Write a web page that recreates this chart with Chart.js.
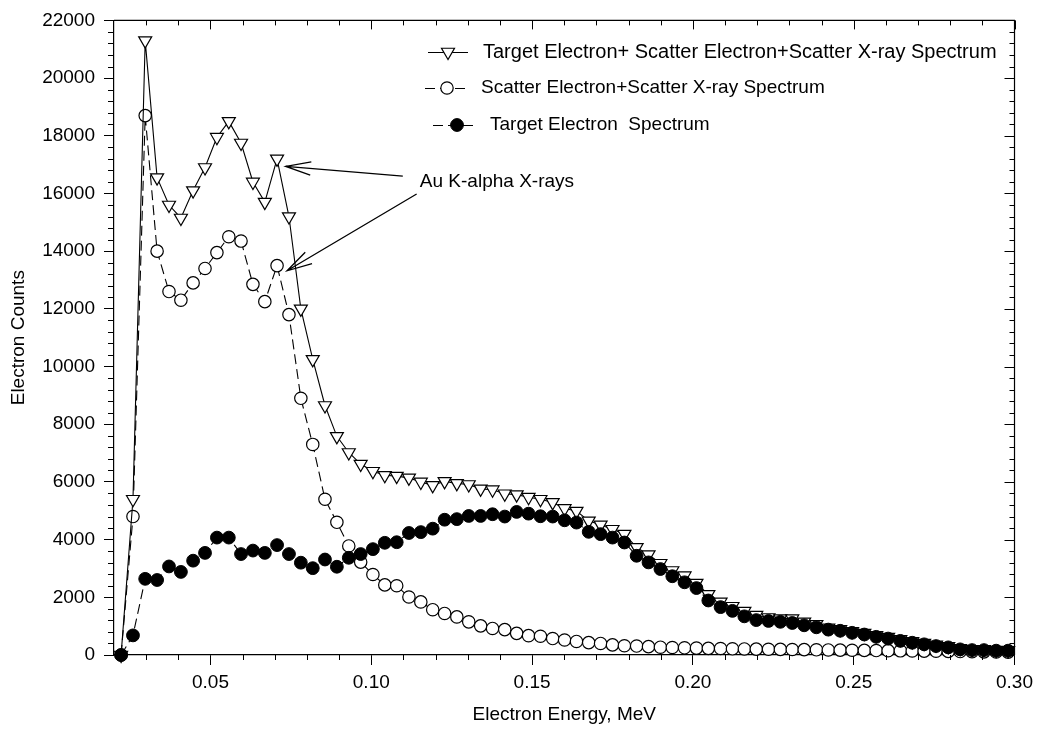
<!DOCTYPE html>
<html>
<head>
<meta charset="utf-8">
<title>Electron Energy Spectrum</title>
<script src="https://cdn.jsdelivr.net/npm/chart.js@4.4.1/dist/chart.umd.min.js"></script>
<style>
  html, body { margin: 0; padding: 0; background: #fff; }
  #chart { display: block; }
</style>
</head>
<body>
<canvas id="chart" width="1039" height="729"></canvas>
<script>
// energy bins, MeV
const energies = [
  0.0222, 0.0259, 0.0297, 0.0334, 0.0371, 0.0408, 0.0446, 0.0483, 0.0520, 0.0557,
  0.0595, 0.0632, 0.0669, 0.0707, 0.0744, 0.0781, 0.0818, 0.0856, 0.0893, 0.0930,
  0.0967, 0.1005, 0.1042, 0.1079, 0.1117, 0.1154, 0.1191, 0.1228, 0.1266, 0.1303,
  0.1340, 0.1377, 0.1415, 0.1452, 0.1489, 0.1526, 0.1564, 0.1601, 0.1638, 0.1676,
  0.1713, 0.1750, 0.1787, 0.1825, 0.1862, 0.1899, 0.1936, 0.1974, 0.2011, 0.2048,
  0.2086, 0.2123, 0.2160, 0.2197, 0.2235, 0.2272, 0.2309, 0.2346, 0.2384, 0.2421,
  0.2458, 0.2495, 0.2533, 0.2570, 0.2607, 0.2645, 0.2682, 0.2719, 0.2756, 0.2794,
  0.2831, 0.2868, 0.2905, 0.2943, 0.2980
];

// target electron + scatter electron + scatter x-ray
const totalCounts = [
  0, 5400, 21300, 16550, 15600, 15150, 16100, 16900, 17950, 18500,
  17750, 16400, 15700, 17200, 15200, 12000, 10250, 8650, 7580, 7020,
  6620, 6370, 6230, 6200, 6140, 6000, 5880, 6020, 5950, 5910,
  5760, 5730, 5590, 5560, 5470, 5400, 5290, 5080, 4990, 4650,
  4510, 4360, 4190, 3730, 3480, 3180, 2930, 2750, 2490, 2100,
  1840, 1690, 1520, 1380, 1300, 1260, 1260, 1150, 1060, 940,
  890, 820, 760, 680, 620, 540, 470, 410, 350, 300,
  230, 200, 195, 170, 165
];

// scatter electron + scatter x-ray
const scatterCounts = [
  0, 4800, 18700, 14000, 12600, 12300, 12900, 13400, 13950, 14500,
  14350, 12850, 12250, 13500, 11800, 8900, 7300, 5400, 4600, 3780,
  3220, 2790, 2430, 2400, 2010, 1840, 1570, 1440, 1320, 1150,
  1010, 920, 880, 750, 670, 650, 570, 520, 470, 430,
  400, 350, 320, 310, 290, 270, 260, 250, 240, 230,
  225, 215, 210, 205, 200, 195, 190, 185, 180, 175,
  170, 165, 160, 155, 150, 145, 140, 135, 130, 125,
  120, 115, 110, 105, 100
];

// target electrons only
const targetCounts = [
  0, 680, 2640, 2600, 3070, 2880, 3270, 3540, 4070, 4070,
  3500, 3620, 3540, 3810, 3500, 3200, 3010, 3310, 3060, 3370,
  3500, 3670, 3890, 3910, 4230, 4260, 4380, 4690, 4710, 4820,
  4820, 4880, 4800, 4960, 4900, 4810, 4800, 4670, 4590, 4270,
  4190, 4070, 3900, 3440, 3210, 2980, 2730, 2520, 2320, 1890,
  1660, 1530, 1340, 1210, 1180, 1150, 1110, 1030, 960, 880,
  840, 770, 710, 630, 570, 490, 425, 370, 310, 265,
  195, 170, 170, 150, 150
];

const xTickValues = [0.05, 0.10, 0.15, 0.20, 0.25, 0.30];
const yTickValues = [0, 2000, 4000, 6000, 8000, 10000, 12000, 14000, 16000, 18000, 20000, 22000];

const seriesLabels = [
  'Target Electron+ Scatter Electron+Scatter X-ray Spectrum',
  'Scatter Electron+Scatter X-ray Spectrum',
  'Target Electron  Spectrum'
];

// K-alpha callout, in data units
const calloutText = 'Au K-alpha X-rays';
const calloutAt = { x: 0.1151, y: 16420 };
const calloutArrows = [
  { from: { x: 0.1098, y: 16600 }, to: { x: 0.0734, y: 16940 } },
  { from: { x: 0.1141, y: 15980 }, to: { x: 0.0738, y: 13320 } }
];

const FONT = "'Liberation Sans', Arial, Helvetica, sans-serif";
Chart.defaults.font.family = FONT;
Chart.defaults.font.size = 19;
Chart.defaults.color = '#000';

const toPoints = (values) => values.map((v, i) => ({ x: energies[i], y: v }));

// top/right frame lines plus minor and mirrored tick marks
const framePlugin = {
  id: 'frame',
  afterDraw(chart) {
    const { ctx, chartArea: a, scales: { x, y } } = chart;
    ctx.save();
    ctx.strokeStyle = '#000';
    ctx.lineWidth = 1.2;
    ctx.beginPath();
    ctx.moveTo(a.left, a.top);
    ctx.lineTo(a.right, a.top);
    ctx.lineTo(a.right, a.bottom);
    ctx.stroke();

    ctx.lineWidth = 1;
    ctx.beginPath();
    for (let k = 3; k <= 30; k++) {
      const px = Math.round(x.getPixelForValue(k / 100)) + 0.5;
      const major = k % 5 === 0;
      if (!major) {
        ctx.moveTo(px, a.bottom);
        ctx.lineTo(px, a.bottom + 5);
      }
      ctx.moveTo(px, a.top);
      ctx.lineTo(px, a.top + (major ? 9 : 5));
    }
    for (let v = 0; v <= 22000; v += 400) {
      const py = Math.round(y.getPixelForValue(v)) + 0.5;
      const major = v % 2000 === 0;
      if (!major) {
        ctx.moveTo(a.left - 6, py);
        ctx.lineTo(a.left, py);
      }
      ctx.moveTo(a.right, py);
      ctx.lineTo(a.right - (major ? 10 : 5), py);
    }
    ctx.stroke();
    ctx.restore();
  }
};

// legend block: short line with the series marker, then the label
const legendPlugin = {
  id: 'seriesKey',
  afterDraw(chart) {
    const { ctx } = chart;
    const rows = [
      { ds: 0, y: 52, x0: 428, x1: 468, mx: 448, tx: 483, size: 20 },
      { ds: 1, y: 88, x0: 425, x1: 467, mx: 447, tx: 481, size: 19 },
      { ds: 2, y: 125, x0: 433, x1: 476, mx: 457, tx: 490, size: 19 }
    ];
    ctx.save();
    rows.forEach((r) => {
      const ds = chart.data.datasets[r.ds];
      ctx.strokeStyle = '#000';
      ctx.lineWidth = 1.1;
      ctx.setLineDash(ds.borderDash || []);
      ctx.beginPath();
      ctx.moveTo(r.x0, r.y + 0.5);
      ctx.lineTo(r.x1, r.y + 0.5);
      ctx.stroke();
      ctx.setLineDash([]);
      ctx.fillStyle = ds.pointBackgroundColor;
      ctx.lineWidth = ds.pointBorderWidth;
      Chart.helpers.drawPoint(ctx, {
        pointStyle: ds.pointStyle,
        rotation: ds.pointRotation || 0,
        radius: ds.pointRadius,
        borderWidth: ds.pointBorderWidth
      }, r.mx, r.y);
      ctx.fillStyle = '#000';
      ctx.font = r.size + 'px ' + FONT;
      ctx.textBaseline = 'middle';
      ctx.textAlign = 'left';
      ctx.fillText(ds.label, r.tx, r.y);
    });
    ctx.restore();
  }
};

// K-alpha label with open-headed arrows
const calloutPlugin = {
  id: 'callout',
  afterDraw(chart) {
    const { ctx, scales: { x, y } } = chart;
    const px = (p) => ({ x: x.getPixelForValue(p.x), y: y.getPixelForValue(p.y) });
    ctx.save();
    ctx.fillStyle = '#000';
    ctx.font = '19px ' + FONT;
    ctx.textBaseline = 'middle';
    ctx.textAlign = 'left';
    const t = px(calloutAt);
    ctx.fillText(calloutText, t.x, t.y);

    ctx.strokeStyle = '#000';
    ctx.lineWidth = 1.3;
    calloutArrows.forEach((arr) => {
      const s = px(arr.from);
      const e = px(arr.to);
      const ang = Math.atan2(s.y - e.y, s.x - e.x);
      const len = 26;
      const spread = 0.26;
      ctx.beginPath();
      ctx.moveTo(s.x, s.y);
      ctx.lineTo(e.x, e.y);
      ctx.moveTo(e.x + len * Math.cos(ang - spread), e.y + len * Math.sin(ang - spread));
      ctx.lineTo(e.x, e.y);
      ctx.lineTo(e.x + len * Math.cos(ang + spread), e.y + len * Math.sin(ang + spread));
      ctx.stroke();
    });
    ctx.restore();
  }
};

new Chart(document.getElementById('chart'), {
  type: 'line',
  data: {
    datasets: [
      {
        label: seriesLabels[0],
        data: toPoints(totalCounts),
        borderColor: '#000',
        borderWidth: 1.1,
        pointStyle: 'triangle',
        pointRotation: 180,
        pointRadius: 7.5,
        pointBackgroundColor: '#fff',
        pointBorderColor: '#000',
        pointBorderWidth: 1.2,
        order: 2
      },
      {
        label: seriesLabels[1],
        data: toPoints(scatterCounts),
        borderColor: '#000',
        borderWidth: 1.1,
        borderDash: [10, 5],
        pointStyle: 'circle',
        pointRadius: 6.2,
        pointBackgroundColor: '#fff',
        pointBorderColor: '#000',
        pointBorderWidth: 1.2,
        order: 3
      },
      {
        label: seriesLabels[2],
        data: toPoints(targetCounts),
        borderColor: '#000',
        borderWidth: 1.1,
        borderDash: [10, 5],
        pointStyle: 'circle',
        pointRadius: 6.4,
        pointBackgroundColor: '#000',
        pointBorderColor: '#000',
        pointBorderWidth: 1,
        order: 1
      }
    ]
  },
  options: {
    responsive: false,
    animation: false,
    devicePixelRatio: 1,
    events: [],
    clip: false,
    layout: { padding: { top: 16, right: 24, left: 0, bottom: 0 } },
    elements: { line: { tension: 0 } },
    plugins: {
      legend: { display: false },
      tooltip: { enabled: false }
    },
    scales: {
      x: {
        type: 'linear',
        min: 0.02,
        max: 0.30,
        afterBuildTicks: (s) => { s.ticks = xTickValues.map((v) => ({ value: v })); },
        afterFit: (s) => { s.height = 74; },
        grid: { drawOnChartArea: false, drawTicks: true, tickLength: 10, tickColor: '#000', tickWidth: 1 },
        border: { display: true, color: '#000', width: 1.2 },
        ticks: {
          padding: 6,
          maxRotation: 0,
          autoSkip: false,
          color: '#000',
          callback: (v) => Number(v).toFixed(2)
        },
        title: {
          display: true,
          text: 'Electron Energy, MeV',
          color: '#000',
          padding: { top: 0, bottom: 3 }
        }
      },
      y: {
        type: 'linear',
        min: 0,
        max: 22000,
        afterBuildTicks: (s) => { s.ticks = yTickValues.map((v) => ({ value: v })); },
        afterFit: (s) => { s.width = 114; },
        grid: { drawOnChartArea: false, drawTicks: true, tickLength: 10, tickColor: '#000', tickWidth: 1 },
        border: { display: true, color: '#000', width: 1.2 },
        ticks: {
          padding: 9,
          autoSkip: false,
          color: '#000',
          callback: (v) => String(v)
        },
        title: {
          display: true,
          text: 'Electron Counts',
          color: '#000',
          padding: { top: 7, bottom: 0 }
        }
      }
    }
  },
  plugins: [framePlugin, legendPlugin, calloutPlugin]
});
</script>
</body>
</html>
